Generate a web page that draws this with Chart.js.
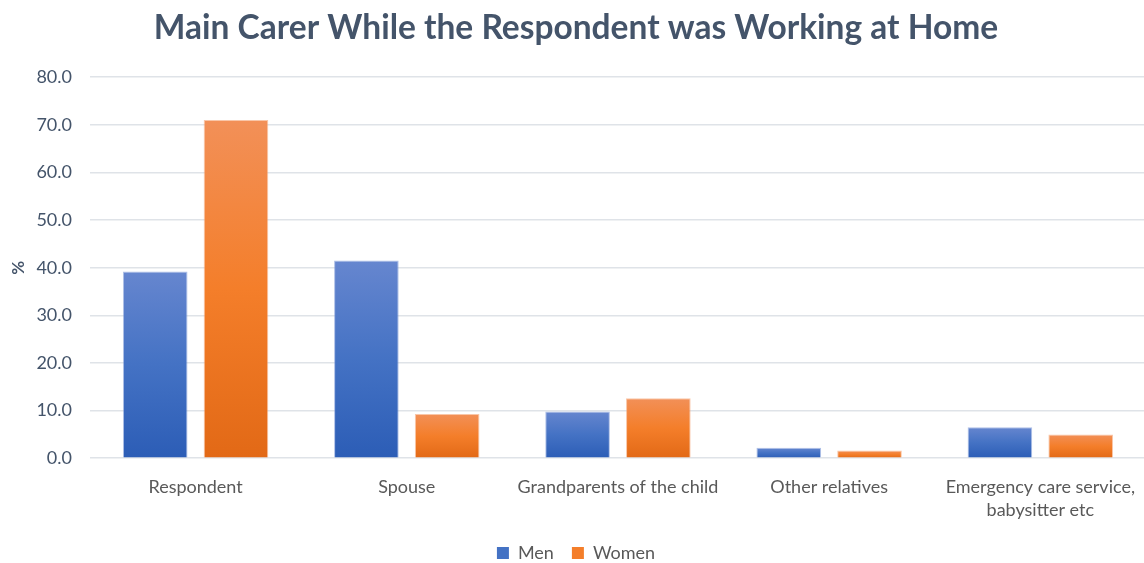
<!DOCTYPE html>
<html>
<head>
<meta charset="utf-8">
<script src="https://cdn.jsdelivr.net/npm/chart.js@4.4.1/dist/chart.umd.min.js"></script>
<style>
html,body{margin:0;padding:0;overflow:hidden;background:#fff;}
#wrap{width:1152px;height:563px;position:relative;}
</style>
</head>
<body>
<div id="wrap"><canvas id="c"></canvas></div>
<script>
const categories = ["Respondent", "Spouse", "Grandparents of the child", "Other relatives", ["Emergency care service,", "babysitter etc"]];
const men = [39.2, 41.5, 9.8, 2.2, 6.5];
const women = [71.0, 9.3, 12.6, 1.6, 5.0];
const yTicks = [0, 10, 20, 30, 40, 50, 60, 70, 80];

const FONT = "Lato, 'Open Sans', sans-serif";

function grad(top, mid, bottom) {
  return function(ctx) {
    const chart = ctx.chart;
    const ys = chart.scales.y;
    if (!ys || ctx.parsed === undefined) return mid;
    const v = ctx.parsed.y;
    const y0 = ys.getPixelForValue(0);
    const y1 = ys.getPixelForValue(v);
    if (!isFinite(y0) || !isFinite(y1) || y0 === y1) return mid;
    const g = chart.ctx.createLinearGradient(0, y1, 0, y0);
    g.addColorStop(0, top);
    g.addColorStop(0.5, mid);
    g.addColorStop(1, bottom);
    return g;
  };
}

const legendShift = {
  id: 'legendShift',
  afterLayout(chart) {
    const lg = chart.legend;
    if (lg) { lg.top -= 13; lg.bottom -= 13; }
  }
};

new Chart(document.getElementById('c'), {
  type: 'bar',
  plugins: [legendShift],
  data: {
    labels: categories,
    datasets: [
      { label: 'Men', data: men, backgroundColor: grad('#6686cf', '#4472c4', '#2c5db6'), borderColor: 'rgba(120,150,215,0.6)', borderWidth: 1, categoryPercentage: 0.765, barPercentage: 0.8 },
      { label: 'Women', data: women, backgroundColor: grad('#f29058', '#f47e2a', '#e26916'), borderColor: 'rgba(245,160,110,0.6)', borderWidth: 1, categoryPercentage: 0.765, barPercentage: 0.8 }
    ]
  },
  options: {
    responsive: true,
    maintainAspectRatio: false,
    animation: false,
    layout: { padding: { left: 0, right: 0, top: 6, bottom: -22 } },
    plugins: {
      title: {
        display: true,
        text: 'Main Carer While the Respondent was Working at Home',
        color: '#44546a',
        font: { family: FONT, size: 33.5, weight: 'bold' },
        padding: { top: 2, bottom: 29 }
      },
      legend: {
        position: 'bottom',
        labels: {
          color: '#595959',
          font: { family: FONT, size: 18 },
          boxWidth: 12, boxHeight: 12,
          padding: 18,
          generateLabels: function(chart) {
            const cols = ['#4472c4', '#f47e2a'];
            return chart.data.datasets.map((d, i) => ({
              text: d.label, fillStyle: cols[i], strokeStyle: cols[i], lineWidth: 0, datasetIndex: i, fontColor: '#595959'
            }));
          }
        }
      },
      tooltip: { enabled: false }
    },
    scales: {
      x: {
        grid: { display: false, drawTicks: false },
        border: { display: false },
        ticks: { color: '#595959', font: { family: FONT, size: 18, lineHeight: 1.3 }, padding: 17, maxRotation: 0, autoSkip: false }
      },
      y: {
        min: 0, max: 80,
        afterBuildTicks: function(axis) { axis.ticks = yTicks.map(v => ({ value: v })); },
        afterFit: function(axis) { axis.width = 90; },
        grid: { color: '#dfe3e8', lineWidth: 1.5, drawTicks: false },
        border: { display: false },
        ticks: { color: '#44546a', font: { family: FONT, size: 18 }, padding: 18, callback: v => Number(v).toFixed(1) },
        title: { display: true, text: '%', color: '#44546a', font: { family: FONT, size: 17, weight: 'bold' }, padding: { top: 8, bottom: 0 } }
      }
    }
  }
});
</script>
</body>
</html>
